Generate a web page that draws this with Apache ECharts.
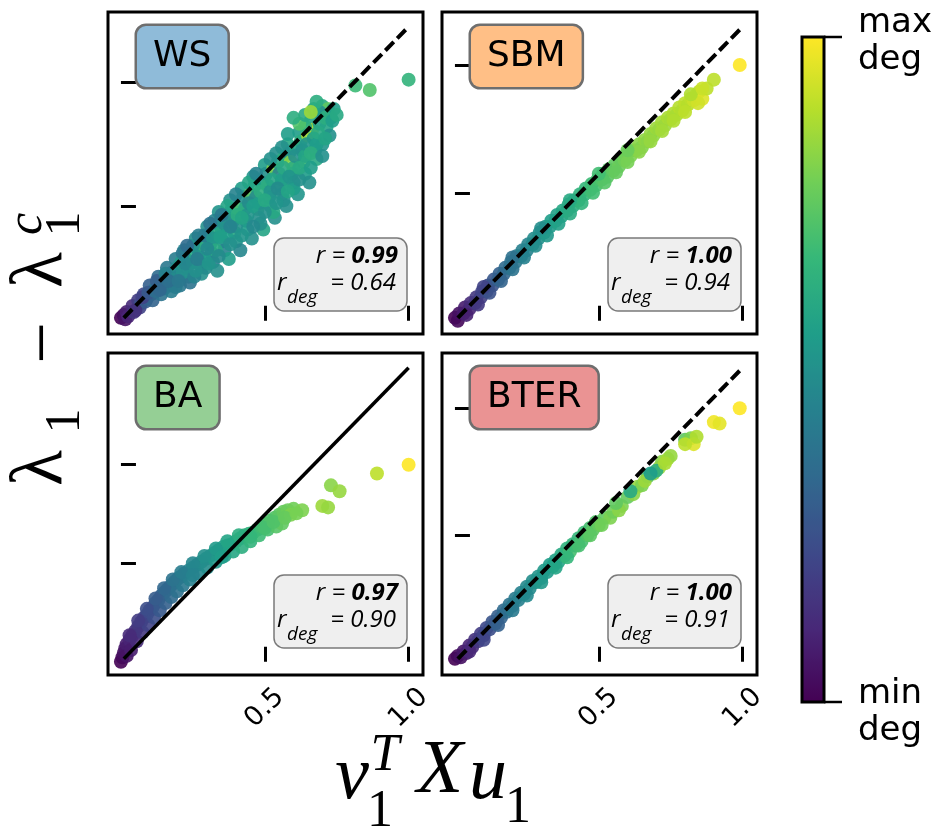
<!DOCTYPE html>
<html><head><meta charset="utf-8">
<script src="https://cdn.jsdelivr.net/npm/echarts@6/dist/echarts.min.js"></script>
<style>html,body{margin:0;padding:0;background:#fff}#c{width:945px;height:834px}</style>
</head><body><div id="c"></div><script>
// ---------- data ----------
const panelNames = ['WS', 'SBM', 'BA', 'BTER'];
const panelColors = ['#8fbbd9', '#ffbf86', '#95cf95', '#ea9393'];
const rValues = ['0.99', '1.00', '0.97', '1.00'];
const rDegValues = ['0.64', '0.94', '0.90', '0.91'];
const xTickValues = [0.5, 1.0];
const yTickWS = [0.39, 0.81];
const yTickSBM = [0.435, 0.87];
const yTickBA = [0.335, 0.67];
const yTickBTER = [0.431, 0.862];
const diagonal = [[0.01, 0.01], [1.0, 1.0]];
const colorbarLabels = ['max\ndeg', 'min\ndeg'];

// [x, y, degree(normalised)]
const wsPts = [
[0.00,0.01,0.0],[0.01,0.02,0.03],[0.015,0.005,0.05],[0.02,0.03,0.08],[0.025,0.015,0.1],
[0.04,0.05,0.12],[0.045,0.03,0.15],[0.06,0.07,0.18],[0.065,0.045,0.2],[0.07,0.06,0.25],
[0.08,0.09,0.22],[0.085,0.065,0.28],[0.09,0.075,0.3],
[0.10,0.12,0.3],[0.105,0.09,0.35],[0.11,0.07,0.32],[0.115,0.105,0.4],
[0.13,0.15,0.35],[0.135,0.12,0.42],[0.14,0.09,0.38],[0.145,0.135,0.45],
[0.16,0.18,0.4],[0.165,0.15,0.45],[0.17,0.12,0.5],[0.175,0.10,0.42],[0.18,0.165,0.38],
[0.19,0.21,0.42],[0.195,0.18,0.5],[0.20,0.15,0.45],[0.205,0.12,0.4],[0.21,0.20,0.55],
[0.22,0.24,0.45],[0.225,0.21,0.5],[0.23,0.18,0.42],[0.235,0.15,0.48],[0.24,0.13,0.38],[0.245,0.225,0.6],
[0.26,0.28,0.48],[0.265,0.25,0.44],[0.27,0.22,0.52],[0.275,0.19,0.46],[0.28,0.16,0.5],[0.285,0.26,0.62],
[0.30,0.32,0.5],[0.305,0.29,0.45],[0.31,0.26,0.55],[0.315,0.23,0.48],[0.32,0.20,0.42],[0.33,0.30,0.6],[0.335,0.17,0.5],
[0.34,0.37,0.52],[0.345,0.34,0.47],[0.35,0.31,0.58],[0.355,0.27,0.5],[0.36,0.24,0.45],[0.37,0.35,0.62],[0.375,0.21,0.55],
[0.38,0.41,0.5],[0.385,0.38,0.55],[0.39,0.34,0.48],[0.395,0.30,0.6],[0.40,0.27,0.52],[0.41,0.38,0.7],[0.415,0.24,0.46],
[0.42,0.45,0.55],[0.425,0.42,0.5],[0.43,0.38,0.6],[0.435,0.34,0.45],[0.44,0.31,0.55],[0.45,0.43,0.75],[0.455,0.28,0.5],
[0.46,0.49,0.52],[0.465,0.46,0.6],[0.47,0.42,0.48],[0.475,0.38,0.65],[0.48,0.35,0.5],[0.49,0.47,0.55],[0.495,0.31,0.58],
[0.50,0.53,0.55],[0.505,0.50,0.5],[0.51,0.46,0.62],[0.515,0.42,0.48],[0.52,0.39,0.55],[0.53,0.52,0.8],[0.535,0.35,0.5],
[0.54,0.57,0.5],[0.545,0.54,0.58],[0.55,0.50,0.45],[0.555,0.46,0.6],[0.56,0.43,0.52],[0.57,0.56,0.62],[0.575,0.39,0.5],
[0.58,0.60,0.6],[0.585,0.57,0.5],[0.59,0.54,0.82],[0.595,0.50,0.55],[0.60,0.47,0.48],[0.61,0.59,0.58],[0.615,0.43,0.52],
[0.62,0.64,0.55],[0.625,0.61,0.62],[0.63,0.58,0.5],[0.635,0.54,0.7],[0.64,0.50,0.55],[0.65,0.63,0.85],[0.655,0.47,0.5],
[0.66,0.68,0.58],[0.665,0.65,0.9],[0.67,0.62,0.55],[0.675,0.58,0.5],[0.68,0.55,0.6],[0.69,0.67,0.55],[0.70,0.60,0.52],
[0.70,0.73,0.6],[0.705,0.70,0.55],[0.715,0.66,0.58],[0.72,0.72,0.75],[0.73,0.69,0.6],[0.74,0.72,0.55],[0.725,0.63,0.5],
[0.05,0.035,0.14],[0.075,0.08,0.2],[0.095,0.095,0.28],[0.12,0.10,0.36],[0.125,0.135,0.3],[0.15,0.11,0.4],
[0.155,0.16,0.44],[0.185,0.14,0.48],[0.19,0.115,0.42],[0.215,0.165,0.5],[0.215,0.23,0.4],[0.25,0.20,0.55],
[0.255,0.15,0.45],[0.25,0.255,0.5],[0.29,0.29,0.42],[0.29,0.21,0.55],[0.295,0.18,0.48],[0.32,0.28,0.52],
[0.325,0.34,0.45],[0.33,0.24,0.6],[0.36,0.33,0.5],[0.365,0.29,0.55],[0.37,0.39,0.58],[0.40,0.32,0.5],
[0.40,0.43,0.45],[0.405,0.36,0.62],[0.44,0.36,0.52],[0.445,0.40,0.48],[0.445,0.47,0.58],[0.48,0.40,0.55],
[0.485,0.44,0.62],[0.485,0.33,0.5],[0.52,0.44,0.52],[0.525,0.48,0.58],[0.52,0.55,0.5],[0.53,0.37,0.6],
[0.56,0.48,0.56],[0.565,0.52,0.6],[0.565,0.41,0.5],[0.60,0.52,0.62],[0.605,0.56,0.5],[0.60,0.45,0.55],
[0.64,0.56,0.58],[0.645,0.60,0.52],[0.64,0.66,0.62],[0.68,0.60,0.55],[0.685,0.64,0.6],[0.69,0.71,0.5],
[0.71,0.69,0.62],[0.71,0.62,0.58],[0.735,0.68,0.55],[0.62,0.67,0.72],[0.58,0.635,0.55],[0.64,0.70,0.6],
[0.67,0.72,0.58],[0.75,0.70,0.6],
[0.135,0.105,0.33],[0.165,0.135,0.36],[0.2,0.135,0.4],[0.225,0.195,0.46],[0.26,0.17,0.5],[0.265,0.21,0.42],
[0.3,0.245,0.47],[0.305,0.195,0.52],[0.34,0.22,0.48],[0.345,0.285,0.56],[0.38,0.26,0.5],[0.38,0.32,0.45],
[0.42,0.29,0.52],[0.42,0.35,0.58],[0.46,0.32,0.47],[0.46,0.39,0.55],[0.50,0.37,0.5],[0.50,0.41,0.6],
[0.54,0.40,0.52],[0.545,0.45,0.48],[0.58,0.44,0.58],[0.585,0.49,0.52],[0.62,0.48,0.5],[0.62,0.52,0.6],
[0.66,0.52,0.55],[0.66,0.57,0.62],[0.70,0.56,0.5],[0.35,0.36,0.4],[0.31,0.33,0.38],[0.27,0.29,0.42],
[0.23,0.255,0.35],[0.47,0.5,0.45],[0.56,0.59,0.5],
[0.60,0.69,0.62],[0.68,0.745,0.62],[0.66,0.71,0.85],[0.815,0.80,0.68],[0.865,0.785,0.72],[1.0,0.82,0.65]
];
const sbmPts = [
[0.00,0.01,0.0],[0.01,0.00,0.02],[0.015,0.025,0.04],[0.03,0.025,0.07],[0.035,0.045,0.08],[0.05,0.04,0.1],
[0.055,0.06,0.12],[0.07,0.06,0.15],[0.075,0.08,0.16],[0.09,0.08,0.19],[0.095,0.10,0.2],[0.11,0.10,0.22],
[0.115,0.12,0.24],[0.13,0.12,0.26],[0.135,0.14,0.27],[0.15,0.14,0.3],[0.155,0.16,0.31],[0.17,0.16,0.33],
[0.175,0.18,0.34],[0.19,0.18,0.36],[0.195,0.20,0.37],[0.21,0.20,0.39],[0.215,0.22,0.4],[0.23,0.22,0.42],
[0.235,0.24,0.43],[0.25,0.24,0.45],[0.255,0.26,0.45],[0.27,0.26,0.47],[0.275,0.28,0.48],[0.29,0.28,0.5],
[0.295,0.30,0.5],[0.31,0.30,0.52],[0.315,0.32,0.52],[0.33,0.32,0.54],[0.335,0.34,0.55],[0.35,0.34,0.56],
[0.355,0.36,0.57],[0.37,0.355,0.58],[0.375,0.375,0.59],[0.39,0.375,0.6],[0.395,0.395,0.6],[0.41,0.39,0.62],
[0.415,0.41,0.62],[0.43,0.41,0.64],[0.435,0.43,0.64],[0.45,0.43,0.66],[0.455,0.45,0.66],[0.47,0.445,0.68],
[0.475,0.465,0.68],[0.49,0.46,0.7],[0.495,0.48,0.7],[0.51,0.48,0.72],[0.515,0.50,0.71],[0.53,0.49,0.74],
[0.535,0.515,0.73],[0.55,0.51,0.75],[0.555,0.53,0.75],[0.57,0.525,0.77],[0.575,0.55,0.76],[0.59,0.545,0.78],
[0.595,0.565,0.78],[0.61,0.56,0.8],[0.615,0.58,0.79],[0.63,0.58,0.8],[0.64,0.60,0.82],[0.65,0.59,0.81],
[0.66,0.615,0.83],[0.67,0.61,0.82],[0.68,0.635,0.84],[0.69,0.63,0.83],[0.70,0.655,0.85],[0.71,0.65,0.84],
[0.72,0.675,0.86],[0.73,0.665,0.85],[0.74,0.69,0.87],[0.75,0.685,0.86],[0.76,0.705,0.88],[0.77,0.70,0.87],
[0.78,0.725,0.89],[0.79,0.715,0.88],[0.80,0.74,0.9],[0.81,0.735,0.89],[0.82,0.755,0.9],[0.83,0.75,0.92],
[0.84,0.77,0.91],[0.85,0.78,0.9],[0.86,0.755,0.95],[0.875,0.79,0.9],[0.90,0.82,0.9],[0.99,0.87,1.0],
[0.04,0.02,0.09],[0.08,0.055,0.17],[0.12,0.095,0.25],[0.16,0.135,0.32],[0.20,0.175,0.38],[0.24,0.215,0.44],
[0.28,0.255,0.49],[0.32,0.29,0.53],[0.36,0.33,0.57],[0.40,0.365,0.61],[0.44,0.40,0.65],[0.48,0.435,0.69],
[0.52,0.47,0.73],[0.56,0.505,0.76],[0.60,0.54,0.79],[0.64,0.575,0.82],[0.68,0.61,0.84],[0.72,0.645,0.86],
[0.76,0.68,0.88],[0.80,0.71,0.9],[0.845,0.74,0.93],[0.82,0.77,0.88],[0.86,0.79,0.92],
[0.10,0.115,0.2],[0.20,0.215,0.37],[0.30,0.315,0.49],[0.40,0.41,0.6],[0.50,0.50,0.69],[0.60,0.58,0.77]
];
const baPts = [
[0.00,0.00,0.0],[0.005,0.015,0.02],[0.01,0.03,0.04],[0.015,0.045,0.06],[0.02,0.06,0.08],[0.02,0.02,0.05],
[0.03,0.075,0.1],[0.035,0.04,0.08],[0.04,0.09,0.12],[0.05,0.105,0.14],[0.055,0.07,0.12],[0.06,0.12,0.16],
[0.07,0.135,0.18],[0.075,0.10,0.16],[0.08,0.15,0.2],[0.09,0.16,0.22],[0.095,0.125,0.2],[0.10,0.175,0.24],
[0.11,0.185,0.26],[0.115,0.15,0.24],[0.12,0.20,0.28],[0.13,0.21,0.3],[0.135,0.175,0.28],[0.14,0.225,0.31],
[0.15,0.235,0.32],[0.155,0.20,0.31],[0.16,0.245,0.34],[0.17,0.255,0.35],[0.175,0.22,0.34],[0.18,0.265,0.37],
[0.19,0.275,0.38],[0.195,0.24,0.37],[0.20,0.285,0.4],[0.21,0.29,0.41],[0.215,0.26,0.4],[0.22,0.30,0.42],
[0.235,0.31,0.44],[0.24,0.28,0.43],[0.25,0.32,0.45],[0.265,0.33,0.46],[0.27,0.30,0.46],[0.28,0.34,0.48],
[0.295,0.35,0.5],[0.30,0.32,0.49],[0.31,0.36,0.51],[0.325,0.37,0.52],[0.33,0.34,0.53],[0.34,0.38,0.54],
[0.355,0.39,0.55],[0.36,0.36,0.56],[0.37,0.395,0.57],[0.385,0.40,0.58],[0.39,0.375,0.59],[0.40,0.41,0.6],
[0.415,0.42,0.61],[0.42,0.39,0.62],[0.43,0.43,0.63],[0.445,0.435,0.64],[0.45,0.41,0.65],[0.46,0.44,0.66],
[0.475,0.45,0.67],[0.48,0.43,0.68],[0.49,0.46,0.69],[0.505,0.47,0.7],[0.51,0.45,0.7],[0.52,0.48,0.72],
[0.535,0.49,0.72],[0.54,0.46,0.73],[0.55,0.50,0.74],[0.565,0.51,0.76],[0.58,0.515,0.77],[0.60,0.52,0.78],
[0.63,0.515,0.8],[0.56,0.47,0.75],[0.59,0.50,0.8],
[0.03,0.09,0.12],[0.06,0.14,0.18],[0.09,0.18,0.24],[0.12,0.215,0.29],[0.15,0.25,0.33],[0.18,0.28,0.38],
[0.21,0.305,0.42],[0.25,0.335,0.46],[0.29,0.36,0.5],[0.33,0.385,0.54],[0.37,0.41,0.58],[0.41,0.43,0.62],
[0.25,0.295,0.45],[0.35,0.355,0.55],[0.45,0.425,0.66],[0.50,0.455,0.7],[0.53,0.475,0.72],[0.57,0.49,0.76],
[0.61,0.505,0.79],
[0.70,0.53,0.85],[0.73,0.60,0.82],[0.76,0.58,0.84],[0.72,0.525,0.84],[0.89,0.64,0.9],[1.0,0.67,1.0]
];
const bterPts = [
[0.00,0.01,0.0],[0.01,0.02,0.02],[0.02,0.015,0.04],[0.03,0.035,0.06],[0.04,0.03,0.08],[0.05,0.055,0.1],
[0.06,0.05,0.12],[0.07,0.075,0.14],[0.08,0.07,0.16],[0.09,0.095,0.18],[0.10,0.09,0.2],[0.11,0.115,0.22],
[0.12,0.11,0.24],[0.13,0.135,0.26],[0.14,0.13,0.28],[0.15,0.155,0.3],[0.16,0.15,0.32],[0.17,0.175,0.34],
[0.18,0.17,0.36],[0.19,0.195,0.38],[0.20,0.19,0.4],[0.21,0.215,0.41],[0.22,0.21,0.43],[0.23,0.235,0.44],
[0.24,0.23,0.46],[0.25,0.255,0.47],[0.26,0.25,0.48],[0.27,0.275,0.49],[0.28,0.27,0.5],[0.29,0.29,0.51],
[0.30,0.285,0.52],[0.31,0.31,0.53],[0.32,0.305,0.54],[0.33,0.33,0.55],[0.34,0.325,0.56],[0.35,0.345,0.57],
[0.36,0.34,0.58],[0.37,0.365,0.6],[0.38,0.36,0.62],[0.39,0.385,0.64],[0.40,0.375,0.7],[0.41,0.40,0.65],
[0.42,0.395,0.68],[0.43,0.42,0.66],[0.44,0.41,0.7],[0.45,0.44,0.68],[0.46,0.43,0.72],[0.47,0.455,0.7],
[0.48,0.45,0.74],[0.49,0.475,0.72],[0.50,0.465,0.76],[0.52,0.49,0.75],[0.54,0.49,0.8],[0.55,0.51,0.78],
[0.58,0.53,0.8],[0.60,0.56,0.76],[0.62,0.57,0.82],[0.635,0.595,0.84],[0.65,0.60,0.8],[0.67,0.63,0.7],
[0.69,0.64,0.82],[0.71,0.66,0.84],[0.72,0.68,0.82],[0.74,0.69,0.86],[0.75,0.70,0.84],
[0.05,0.035,0.11],[0.10,0.075,0.21],[0.15,0.125,0.31],[0.20,0.175,0.41],[0.25,0.225,0.47],[0.30,0.27,0.53],
[0.35,0.32,0.58],[0.39,0.355,0.66],[0.43,0.395,0.7],[0.47,0.43,0.74],[0.51,0.465,0.78],[0.57,0.515,0.82],
[0.56,0.54,0.75],[0.61,0.58,0.6],[0.66,0.615,0.85],[0.70,0.65,0.62],[0.73,0.675,0.87],[0.68,0.64,0.55],
[0.80,0.755,0.75],[0.82,0.76,0.8],[0.83,0.74,0.95],[0.84,0.765,0.88],[0.80,0.74,0.9],[0.90,0.815,0.98],
[0.92,0.81,0.96],[0.99,0.862,1.0]
];
const panelData = [wsPts, sbmPts, baPts, bterPts];
const panelYTicks = [yTickWS, yTickSBM, yTickBA, yTickBTER];
const panelDashed = [true, true, false, true];
const viridis = ['#440154','#482878','#3e4989','#31688e','#26828e','#1f9e89','#35b779','#6ece58','#b5de2b','#fde725'];

// ---------- layout ----------
const W = 315, H = 322;
const pos = [{l:108,t:12},{l:442,t:12},{l:108,t:353},{l:442,t:353}];
const XMIN = -0.045, XMAX = 1.05;

const grids = [], xAxes = [], yAxes = [], series = [], graphics = [];
pos.forEach((p, i) => {
  grids.push({left:p.l, top:p.t, width:W, height:H, show:true, borderColor:'#000', borderWidth:3, backgroundColor:'#fff'});
  xAxes.push({type:'value', gridIndex:i, min:XMIN, max:XMAX,
    axisLine:{show:false}, splitLine:{show:false},
    axisTick:{show:true, inside:true, length:15, lineStyle:{color:'#000', width:3}, customValues:xTickValues},
    axisLabel:{show:i>=2, customValues:xTickValues, rotate:45, align:'center', verticalAlign:'middle', margin:33,
      fontSize:27, fontFamily:'DejaVu Sans', color:'#000', formatter:v=>v.toFixed(1)}});
  yAxes.push({type:'value', gridIndex:i, min:XMIN, max:XMAX,
    axisLine:{show:false}, splitLine:{show:false},
    axisTick:{show:true, inside:true, length:15, lineStyle:{color:'#000', width:3}, customValues:panelYTicks[i]},
    axisLabel:{show:false}});
  series.push({type:'scatter', xAxisIndex:i, yAxisIndex:i, data:panelData[i], symbolSize:14,
    itemStyle:{opacity:0.9}, z:2});
  graphics.push({type:'text', x:p.l+29, y:p.t+14, z:10, style:{text:panelNames[i], fontSize:36, fontFamily:'DejaVu Sans',
    fill:'#000', backgroundColor:panelColors[i], borderColor:'#6e6e6e', borderWidth:2.5, borderRadius:9,
    padding:[13,16,12,16], align:'left', verticalAlign:'top'}});
  const bx = p.l+166, by = p.t+(i<2?226:222);
  graphics.push({type:'rect', z:10, shape:{x:bx, y:by, width:133, height:73, r:10},
    style:{fill:'#efefef', stroke:'#7a7a7a', lineWidth:1.5}});
  graphics.push({type:'text', z:11, x:bx+124, y:by+18, style:{text:'{i|r = }{b|'+rValues[i]+'}', align:'right', verticalAlign:'middle',
    rich:{i:{fontSize:24, fontStyle:'italic', fontFamily:'Open Sans', fill:'#000'}, b:{fontSize:24, fontStyle:'italic', fontWeight:'bold', fontFamily:'Open Sans', fill:'#000'}}}});
  graphics.push({type:'text', z:11, x:bx+3, y:by+45, style:{text:'r', fontSize:24, fontStyle:'italic', fontFamily:'Open Sans', fill:'#000', align:'left', verticalAlign:'middle'}});
  graphics.push({type:'text', z:11, x:bx+13, y:by+60, style:{text:'deg', fontSize:19, fontStyle:'italic', fontFamily:'Open Sans', fill:'#000', align:'left', verticalAlign:'middle'}});
  graphics.push({type:'text', z:11, x:bx+122, y:by+45, style:{text:'= '+rDegValues[i], fontSize:24, fontStyle:'italic', fontFamily:'Open Sans', fill:'#000', align:'right', verticalAlign:'middle'}});
});
pos.forEach((p, i) => {
  series.push({type:'line', xAxisIndex:i, yAxisIndex:i, data:diagonal, symbol:'none', silent:true, z:5,
    lineStyle:{color:'#000', width:panelDashed[i]?4:3.5, type:panelDashed[i]?[12,5]:'solid'}});
});

graphics.push({type:'rect', z:20, shape:{x:802, y:37, width:22, height:665}, style:{fill:'none', stroke:'#000', lineWidth:3}});
graphics.push({type:'line', z:20, shape:{x1:824, y1:37, x2:842, y2:37}, style:{stroke:'#000', lineWidth:2.5}});
graphics.push({type:'line', z:20, shape:{x1:824, y1:702, x2:842, y2:702}, style:{stroke:'#000', lineWidth:2.5}});
const cbFont = {fontSize:34, fontFamily:'DejaVu Sans', fill:'#000', align:'left', verticalAlign:'middle', lineHeight:37};
graphics.push({type:'text', z:20, x:858, y:42, style:Object.assign({text:colorbarLabels[0]}, cbFont)});
graphics.push({type:'text', z:20, x:858, y:713, style:Object.assign({text:colorbarLabels[1]}, cbFont)});

const serif = 'Liberation Serif';
function rt(t, x, y, size, italic) {
  return {type:'text', z:20, x:x, y:y, rotation:Math.PI/2, style:{text:t, fontSize:size, fontFamily:serif,
    fontStyle:italic?'italic':'normal', fill:'#000', align:'center', verticalAlign:'middle'}};
}
graphics.push(rt('λ', 42, 468, 74, false));
graphics.push(rt('1', 66, 421, 50, false));
graphics.push(rt('−', 47, 343, 74, false));
graphics.push(rt('λ', 42, 270, 74, false));
graphics.push(rt('1', 66, 224, 50, false));
graphics.push(rt('c', 28, 224, 50, true));
function ht(t, x, y, size, italic) {
  return {type:'text', z:20, x:x, y:y, style:{text:t, fontSize:size, fontFamily:serif,
    fontStyle:italic?'italic':'normal', fill:'#000', align:'center', verticalAlign:'middle'}};
}
graphics.push(ht('v', 352, 778, 76, true));
graphics.push(ht('1', 380, 812, 52, false));
graphics.push(ht('T', 385, 756, 52, true));
graphics.push(ht('X', 440, 772, 76, true));
graphics.push(ht('u', 488, 778, 76, true));
graphics.push(ht('1', 518, 808, 52, false));

const chart = echarts.init(document.getElementById('c'), null, {renderer:'canvas'});
chart.setOption({
  animation:false,
  backgroundColor:'#fff',
  grid:grids, xAxis:xAxes, yAxis:yAxes, series:series,
  visualMap:{type:'continuous', show:true, min:0, max:1, dimension:2, seriesIndex:[0,1,2,3],
    inRange:{color:viridis}, calculable:false, text:null, showLabel:false,
    orient:'vertical', left:802, top:37, itemWidth:22, itemHeight:665, padding:0},
  graphic:graphics
});
</script></body></html>
